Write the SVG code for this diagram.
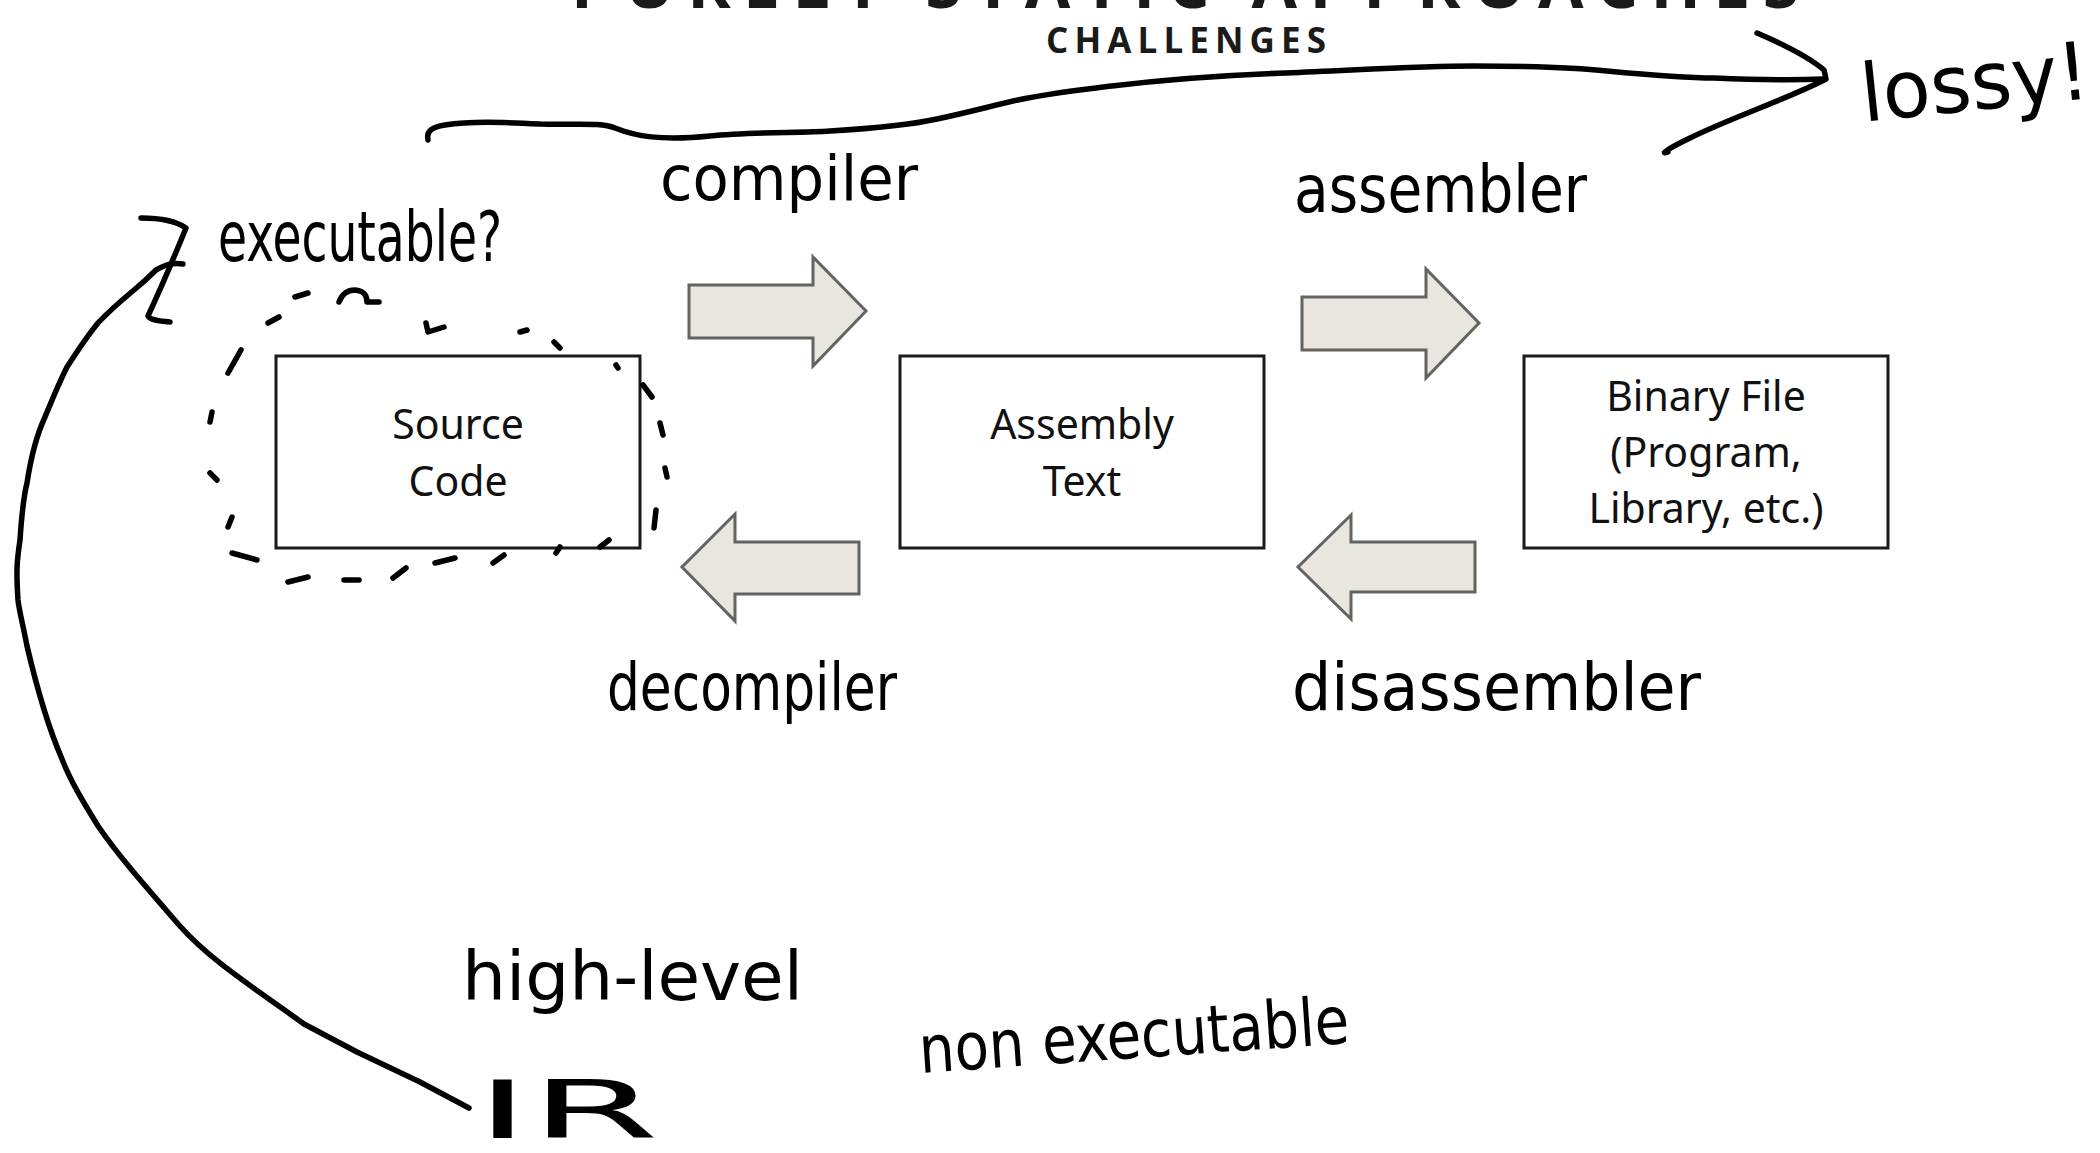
<svg xmlns="http://www.w3.org/2000/svg" width="2100" height="1153" viewBox="0 0 2100 1153">
<defs>
<style>
.box{fill:#fff;stroke:#1a1a1a;stroke-width:3}
.lbl{font-family:"Noto Sans","Open Sans","Liberation Sans",sans-serif;font-size:41px;fill:#111;text-anchor:middle}
.garrow{fill:#e8e6df;stroke:#636360;stroke-width:3;stroke-linejoin:miter}
.ink{fill:none;stroke:#000;stroke-width:5.5;stroke-linecap:round;stroke-linejoin:round}
.hw{font-family:"Liberation Sans Narrow","DejaVu Sans Condensed","Liberation Sans",sans-serif;fill:#000;font-weight:normal}
.title{font-family:"Open Sans","Noto Sans","Liberation Sans",sans-serif;font-weight:700;fill:#1a1a1a;text-anchor:middle}
</style>
</defs>
<rect width="2100" height="1153" fill="#fff"/>

<text class="title" x="1185" y="8" font-size="66" textLength="1228" lengthAdjust="spacing">PURELY STATIC APPROACHES</text>
<text class="title" x="1186" y="53" font-size="35" textLength="280" lengthAdjust="spacing">CHALLENGES</text>

<g id="source-code">
<rect class="box" x="276" y="356" width="364" height="192"/>
<text class="lbl" x="458" y="439">Source</text>
<text class="lbl" x="458" y="496">Code</text>
</g>
<g id="assembly-text">
<rect class="box" x="900" y="356" width="364" height="192"/>
<text class="lbl" x="1082" y="439">Assembly</text>
<text class="lbl" x="1082" y="496">Text</text>
</g>
<g id="binary-file">
<rect class="box" x="1524" y="356" width="364" height="192"/>
<text class="lbl" x="1706" y="411">Binary File</text>
<text class="lbl" x="1706" y="467">(Program,</text>
<text class="lbl" x="1706" y="523">Library, etc.)</text>
</g>

<g id="connectors">
<polygon class="garrow" points="689,285 813,285 813,257 866,311 813,366 813,338 689,338"/>
<polygon class="garrow" points="1302,297 1426,297 1426,269 1479,323 1426,378 1426,350 1302,350"/>
<polygon class="garrow" points="859,542 735,542 735,514 682,567 735,621 735,594 859,594"/>
<polygon class="garrow" points="1475,542 1351,542 1351,515 1298,567 1351,619 1351,592 1475,592"/>

<path class="ink" stroke-width="6.5" d="M428,140 C426,131 432,127 445,125 C470,121 500,122 540,124 C580,125 600,122 615,128 C635,136 660,141 710,136 C750,132 800,133 830,131 C880,128 910,125 937,119 C970,112 995,105 1018,100 C1050,93 1080,90 1112,86 C1180,78 1230,75 1286,73 C1360,70 1420,66 1473,66 C1540,66 1580,68 1607,71 C1660,76 1700,78 1714,78 C1760,80 1800,80 1824,79"/>
<path class="ink" stroke-width="6.5" d="M1757,33 C1785,45 1810,58 1824,70 L1826,79 C1790,98 1730,118 1690,138 C1665,150 1660,155 1668,152"/>

<path class="ink" d="M469,1108 L420,1082 L357,1052 L304,1024 C250,985 210,960 179,925 C140,880 118,855 98,826 C82,800 70,780 62,759 C45,720 35,680 27,646 C22,620 19,610 18,600 C16,570 17,560 20,540 C22,510 24,495 27,483 C32,450 38,432 45,417 C52,400 58,385 67,367 C78,350 88,335 98,323 C110,310 122,300 134,290 C145,281 150,276 156,270 C165,265 172,262 183,264"/>
<path class="ink" d="M141,218 C162,218 176,221 186,228 C175,255 160,290 148,316 C150,320 158,321 170,322"/>

<g class="ink">
<path d="M268,323 L279,317"/>
<path d="M295,297 L308,293"/>
<path d="M339,302 C342,294 348,290 355,290 C364,291 367,295 367,302 L379,302"/>
<path d="M426,323 L428,332 L444,327"/>
<path d="M520,332 L527,330"/>
<path d="M554,342 L560,348"/>
<path d="M616,365 L618,368"/>
<path d="M643,385 L652,397"/>
<path d="M660,423 L663,435"/>
<path d="M665,468 L667,477"/>
<path d="M656,510 L654,528"/>
<path d="M609,540 L600,547"/>
<path d="M560,547 L556,553"/>
<path d="M504,555 L493,563"/>
<path d="M455,558 L435,563"/>
<path d="M406,568 L393,578"/>
<path d="M359,580 L344,580"/>
<path d="M308,577 L288,582"/>
<path d="M257,560 L232,553"/>
<path d="M232,517 L228,527"/>
<path d="M210,473 L217,480"/>
<path d="M212,412 L210,422"/>
<path d="M241,350 L228,373"/>
</g>
</g>

<g id="handwriting">
<text class="hw" x="660" y="200" font-size="62" textLength="258" lengthAdjust="spacingAndGlyphs">compiler</text>
<text class="hw" x="1294" y="212" font-size="66" textLength="293" lengthAdjust="spacingAndGlyphs">assembler</text>
<text class="hw" x="218" y="261" font-size="70" textLength="284" lengthAdjust="spacingAndGlyphs">executable?</text>
<text class="hw" x="1861" y="110" font-size="80" textLength="229" lengthAdjust="spacingAndGlyphs" transform="rotate(-6 1975 90)">lossy!</text>
<text class="hw" x="607" y="710" font-size="66" textLength="290" lengthAdjust="spacingAndGlyphs">decompiler</text>
<text class="hw" x="1292" y="710" font-size="66" textLength="409" lengthAdjust="spacingAndGlyphs">disassembler</text>
<text class="hw" x="462" y="1000" font-size="68" textLength="341" lengthAdjust="spacingAndGlyphs">high-level</text>
<text class="hw" x="475" y="1138" font-size="80" textLength="184" lengthAdjust="spacingAndGlyphs">IR</text>
<text class="hw" x="919" y="1058" font-size="66" textLength="431" lengthAdjust="spacingAndGlyphs" transform="rotate(-4 1134 1045)">non executable</text>
</g>
</svg>
